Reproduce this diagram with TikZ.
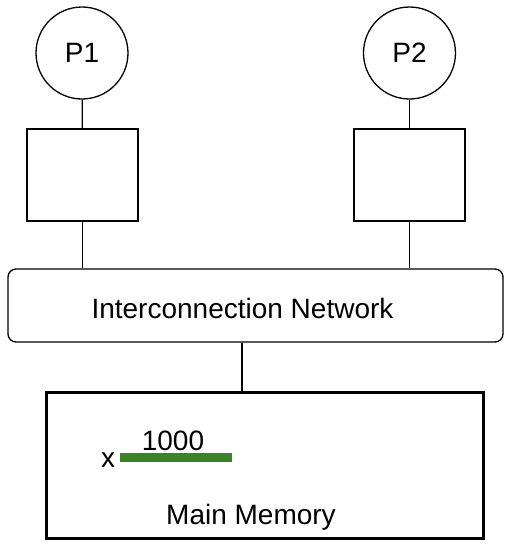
\documentclass[tikz,border=0pt]{standalone}
\usepackage{fontspec}
\setmainfont{Liberation Sans}
\definecolor{bargreen}{RGB}{62,128,46}
\begin{document}
\begin{tikzpicture}[x=1pt,y=-1pt,
  lbl/.style={font=\fontsize{28}{32}\selectfont, inner sep=0pt},
  proc/.style={draw, circle, line width=1.3pt, minimum size=92pt, inner sep=0pt, font=\fontsize{28}{32}\selectfont},
  cache/.style={draw, line width=1.3pt, minimum width=111pt, minimum height=92pt, inner sep=0pt},
  conn/.style={line width=1.3pt}]
\useasboundingbox (0,0) rectangle (516,550);
\node[proc] (p1) at (82,53) {P1};
\node[proc] (p2) at (409.5,53) {P2};
\node[cache] (c1) at (82.5,175) {};
\node[cache] (c2) at (409.5,175) {};
\node[draw, rounded corners=8pt, line width=1.3pt, minimum width=495pt, minimum height=73pt, inner sep=0pt] (net) at (255.5,305.5) {};
\node[lbl, anchor=base] (netlbl) at (242.5,318) {Interconnection Network};
\node[draw, line width=3pt, minimum width=437pt, minimum height=146pt, inner sep=0pt] (mem) at (264.5,465) {};
\node[lbl, anchor=base] (mm) at (251,524) {Main Memory};
\node[lbl, anchor=base] (x) at (108,467) {x};
\node[fill=bargreen, minimum width=112pt, minimum height=9pt, inner sep=0pt] (bar) at (176,457.5) {};
\node[lbl, anchor=base] (val) at (173,450) {1000};
\draw[conn] (p1) -- (c1);
\draw[conn] (p2) -- (c2);
\draw[conn] (c1.south) -- (c1.south |- net.north);
\draw[conn] (c2.south) -- (c2.south |- net.north);
\draw[conn] (net.south -| 242,0) -- (mem.north -| 242,0);
\end{tikzpicture}
\end{document}
